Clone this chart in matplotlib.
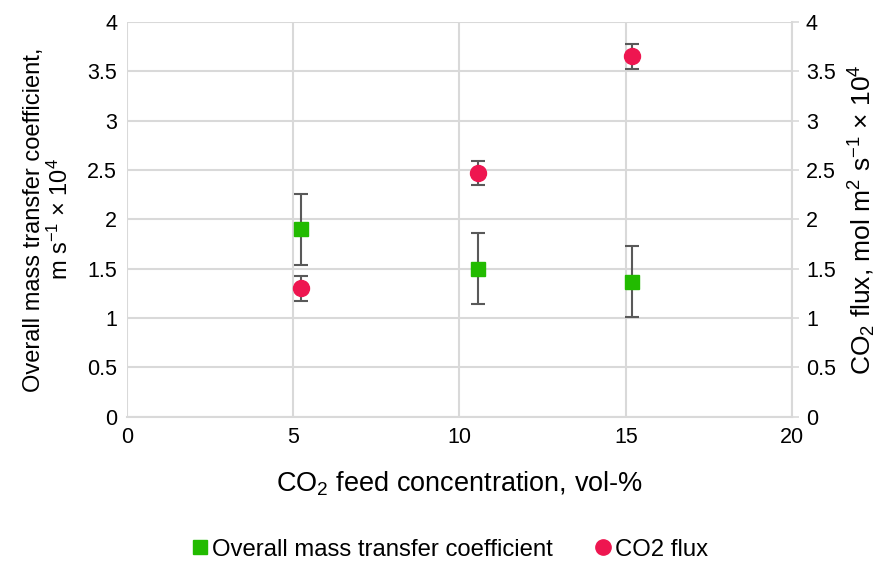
import numpy as np
import matplotlib.pyplot as plt

plt.rcParams['font.family'] = ['Liberation Sans', 'DejaVu Sans']
plt.rcParams['mathtext.fontset'] = 'custom'
plt.rcParams['mathtext.rm'] = 'Liberation Sans'
plt.rcParams['mathtext.it'] = 'Liberation Sans:italic'

# CO2 feed concentration, vol-%
conc = [5.25, 10.55, 15.2]
# overall mass transfer coefficient, m s-1 x 10^4
k_ov = [1.90, 1.50, 1.37]
k_err = [0.36, 0.36, 0.36]
# CO2 flux, mol m2 s-1 x 10^4
flux = [1.30, 2.47, 3.65]
flux_err = [0.125, 0.125, 0.125]

tick_vals = np.arange(0, 4.01, 0.5)
tick_text = ['0', '0.5', '1', '1.5', '2', '2.5', '3', '3.5', '4']

green = '#22BB00'
red = '#EE1650'
grid_c = '#D9D9D9'
err_c = '#595959'

fig = plt.figure(figsize=(8.87, 5.61), dpi=100)
ax = fig.add_axes([0.143, 0.257, 0.75, 0.704])
ax2 = ax.twinx()

ax.set_xlim(0, 20)
ax.set_ylim(0, 4)
ax2.set_ylim(0, 4)
ax.set_xticks(np.arange(0, 21, 5))
ax.set_yticks(tick_vals)
ax2.set_yticks(tick_vals)
ax.set_yticklabels(tick_text)
ax2.set_yticklabels(tick_text)

ax.grid(True, color=grid_c, lw=1.5)
ax.set_axisbelow(True)
for a in (ax, ax2):
    for s in a.spines.values():
        s.set_visible(False)
ax.spines['bottom'].set_visible(True)
ax.spines['bottom'].set_color(grid_c)
ax.spines['bottom'].set_linewidth(1.5)
ax2.spines['right'].set_visible(True)
ax2.spines['right'].set_color(grid_c)
ax2.spines['right'].set_linewidth(1.5)

ax.tick_params(axis='both', length=0, labelsize=15.5, pad=7)
ax2.tick_params(axis='y', length=5, color=grid_c, width=1.2, labelsize=15.5, pad=5)

ax.errorbar(conc, k_ov, yerr=k_err, fmt='s', color=green, ms=10.5,
            ecolor=err_c, elinewidth=1.5, capsize=5, capthick=1.5, zorder=3)
ax2.errorbar(conc, flux, yerr=flux_err, fmt='o', color=red, ms=11.5,
             ecolor=err_c, elinewidth=1.5, capsize=5, capthick=1.5, zorder=3)

ax.set_xlabel(r'CO$\mathregular{_2}$ feed concentration, vol-%', fontsize=19.5, labelpad=16)
ax.set_ylabel('Overall mass transfer coefficient,\n'
              r'm s$\mathregular{^{-1}}$ × 10$\mathregular{^4}$',
              fontsize=17, labelpad=10, linespacing=1.15)
ax2.set_ylabel(r'CO$\mathregular{_2}$ flux, mol m$\mathregular{^2}$ s$\mathregular{^{-1}}$ × 10$\mathregular{^4}$',
               fontsize=19, labelpad=8)

leg_handles = [plt.Line2D([], [], marker='s', ls='', color=green, ms=10.5),
               plt.Line2D([], [], marker='o', ls='', color=red, ms=11)]
fig.legend(leg_handles, ['Overall mass transfer coefficient', 'CO2 flux'],
           loc='center', bbox_to_anchor=(0.505, 0.02), ncol=2, frameon=False,
           fontsize=17.2, handletextpad=0.0, columnspacing=1.6, handlelength=1.0)

fig.savefig('out.png', dpi=100)
